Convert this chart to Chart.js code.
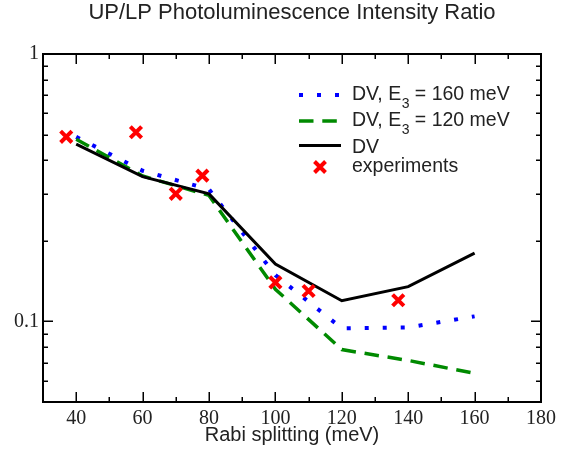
<!DOCTYPE html>
<html><head><meta charset="utf-8">
<script src="https://cdn.jsdelivr.net/npm/chart.js@4/dist/chart.umd.min.js"></script>
<style>html,body{margin:0;padding:0;background:#fff;}#wrap{width:567px;height:452px;position:relative;}</style>
</head><body><div id="wrap"><canvas id="c"></canvas></div>
<script>
// ---- data ----
const modelX = [40, 60, 80, 100, 120, 140, 160];
const dvE3_160 = [0.49, 0.366, 0.312, 0.149, 0.0943, 0.095, 0.1045];
const dvE3_120 = [0.48, 0.35, 0.296, 0.132, 0.0785, 0.0715, 0.064];
const dvOnly = [0.46, 0.348, 0.30, 0.164, 0.1195, 0.135, 0.18];
const expX = [37, 58, 70, 78, 100, 110, 137];
const expY = [0.49, 0.51, 0.30, 0.351, 0.140, 0.13, 0.12];
const xTickValues = [30, 40, 50, 60, 70, 80, 90, 100, 110, 120, 130, 140, 150, 160, 170, 180];
const xTickLabels = [40, 60, 80, 100, 120, 140, 160, 180];
const yTickValues = [0.05, 0.06, 0.07, 0.08, 0.09, 0.1, 0.2, 0.3, 0.4, 0.5, 0.6, 0.7, 0.8, 0.9, 1];
const yTickLabels = [0.1, 1];
const legendMain = ["DV, E", "DV, E", "DV", "experiments"];
const legendSub = ["3", "3", "", ""];
const legendRest = [" = 160 meV", " = 120 meV", "", ""];
const titleText = "UP/LP Photoluminescence Intensity Ratio";
const xTitle = "Rabi splitting (meV)";

const pts = (xs, ys) => xs.map((x, i) => ({x: x, y: ys[i]}));
const isIn = (arr, v) => arr.some(a => Math.abs(a - v) < 1e-9);

const styles = [
  {color: '#0000ff', width: 4, dash: [4, 14]},
  {color: '#008a00', width: 3.5, dash: [14.5, 8.8]},
  {color: '#000000', width: 3, dash: []}
];

const framePlugin = {
  id: 'frameTicks',
  afterDatasetsDraw(chart) {
    const ctx = chart.ctx, a = chart.chartArea;
    const xs = chart.scales.x, ys = chart.scales.y;
    ctx.save();
    ctx.strokeStyle = '#000';
    ctx.lineWidth = 2;
    ctx.lineCap = 'butt';
    ctx.strokeRect(a.left, a.top, a.right - a.left, a.bottom - a.top);
    ctx.lineWidth = 1.5;
    ctx.beginPath();
    xTickValues.forEach(v => {
      const p = Math.round(xs.getPixelForValue(v)) + 0.25;
      const len = isIn(xTickLabels, v) ? 10 : 5;
      ctx.moveTo(p, a.bottom); ctx.lineTo(p, a.bottom - len);
      ctx.moveTo(p, a.top); ctx.lineTo(p, a.top + len);
    });
    yTickValues.forEach(v => {
      const p = Math.round(ys.getPixelForValue(v)) + 0.25;
      const len = isIn(yTickLabels, v) ? 10 : 5;
      ctx.moveTo(a.left, p); ctx.lineTo(a.left + len, p);
      ctx.moveTo(a.right, p); ctx.lineTo(a.right - len, p);
    });
    ctx.stroke();

    // legend
    const sx0 = 299, sx1 = 341, tx = 352;
    const sampleY = [95, 121, 145.5];
    const baseY = [100, 125.5, 152.5, 171.5];
    for (let i = 0; i < 3; i++) {
      ctx.beginPath();
      ctx.strokeStyle = styles[i].color;
      ctx.lineWidth = styles[i].width;
      ctx.setLineDash(styles[i].dash);
      ctx.moveTo(sx0, sampleY[i]); ctx.lineTo(sx1, sampleY[i]);
      ctx.stroke();
    }
    ctx.setLineDash([]);
    // red cross sample
    ctx.strokeStyle = '#ff0000';
    ctx.lineWidth = 4;
    ctx.beginPath();
    const cx = 320, cy = 167, r = 5.5;
    ctx.moveTo(cx - r, cy - r); ctx.lineTo(cx + r, cy + r);
    ctx.moveTo(cx + r, cy - r); ctx.lineTo(cx - r, cy + r);
    ctx.stroke();
    ctx.fillStyle = '#222';
    ctx.textBaseline = 'alphabetic';
    ctx.textAlign = 'left';
    for (let i = 0; i < 4; i++) {
      let x = tx;
      ctx.font = '19.5px "Liberation Sans"';
      ctx.fillText(legendMain[i], x, baseY[i]);
      x += ctx.measureText(legendMain[i]).width;
      if (legendSub[i]) {
        ctx.font = '14px "Liberation Sans"';
        ctx.fillText(legendSub[i], x + 0.5, baseY[i] + 8);
        x += ctx.measureText(legendSub[i]).width + 0.5;
      }
      if (legendRest[i]) {
        ctx.font = '19.5px "Liberation Sans"';
        ctx.fillText(legendRest[i], x, baseY[i]);
      }
    }
    ctx.restore();
  }
};

new Chart(document.getElementById('c'), {
  type: 'line',
  data: {
    datasets: [
      {label: 'experiments', data: pts(expX, expY), showLine: false,
       pointStyle: 'crossRot', pointRadius: 8, pointHoverRadius: 8,
       pointBorderWidth: 4, borderColor: '#ff0000', backgroundColor: '#ff0000'},
      {label: 'DV', data: pts(modelX, dvOnly), borderColor: styles[2].color,
       borderWidth: styles[2].width, pointRadius: 0, tension: 0, fill: false},
      {label: 'DV, E3 = 120 meV', data: pts(modelX, dvE3_120), borderColor: styles[1].color,
       borderWidth: styles[1].width, borderDash: styles[1].dash, pointRadius: 0, tension: 0, fill: false},
      {label: 'DV, E3 = 160 meV', data: pts(modelX, dvE3_160), borderColor: styles[0].color,
       borderWidth: styles[0].width, borderDash: styles[0].dash, borderCapStyle: 'butt',
       pointRadius: 0, tension: 0, fill: false}
    ]
  },
  options: {
    responsive: true, maintainAspectRatio: false, animation: false,
    devicePixelRatio: 1,
    layout: {padding: {left: 0, right: 26, top: 0, bottom: 0}},
    plugins: {
      legend: {display: false}, tooltip: {enabled: false},
      title: {display: true, text: titleText, fullSize: false, color: '#222',
              font: {family: 'Liberation Sans', size: 22, weight: 'normal', lineHeight: 1.2},
              padding: {top: 0, bottom: 27.6}}
    },
    scales: {
      x: {
        type: 'linear', min: 30, max: 180,
        afterBuildTicks: s => { s.ticks = xTickValues.map(v => ({value: v})); },
        afterFit: s => { s.height = 50; },
        grid: {display: false, drawTicks: false},
        border: {display: false},
        ticks: {autoSkip: false, maxRotation: 0, color: '#222', padding: 5,
                font: {family: 'Liberation Serif', size: 20},
                callback: v => isIn(xTickLabels, v) ? String(v) : ''},
        title: {display: true, text: xTitle, color: '#222',
                font: {family: 'Liberation Sans', size: 20}, padding: {top: 0, bottom: 5}}
      },
      y: {
        type: 'logarithmic', min: 0.05, max: 1,
        afterBuildTicks: s => { s.ticks = yTickValues.map(v => ({value: v})); },
        afterFit: s => { s.width = 43; },
        grid: {display: false, drawTicks: false},
        border: {display: false},
        ticks: {autoSkip: false, color: '#222', padding: 4,
                font: {family: 'Liberation Serif', size: 20},
                callback: v => isIn(yTickLabels, v) ? String(v) : ''}
      }
    }
  },
  plugins: [framePlugin]
});
</script></body></html>
